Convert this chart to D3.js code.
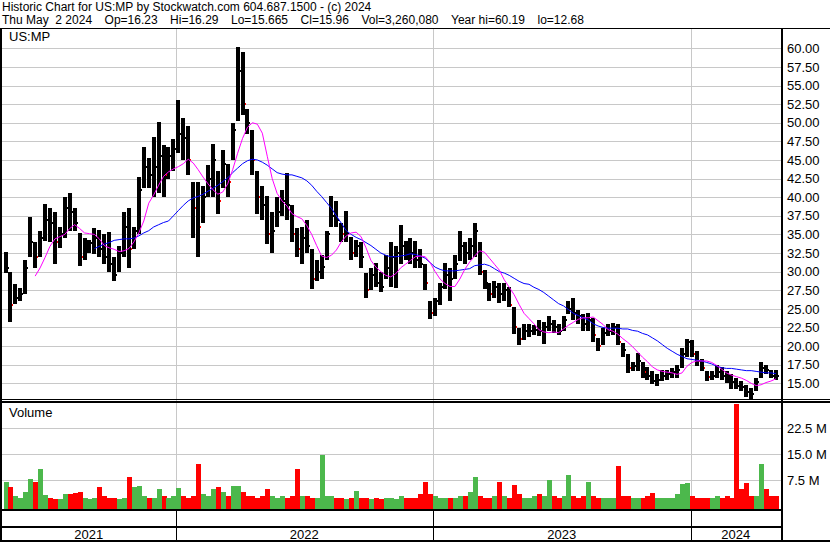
<!DOCTYPE html>
<html>
<head>
<meta charset="utf-8">
<title>US:MP Historic Chart</title>
<script src="https://d3js.org/d3.v7.min.js"></script>
<style>
  body { margin: 0; background: #fff; }
  svg text { font-family: "Liberation Sans", Arial, sans-serif; fill: #000; }
</style>
</head>
<body>
<div id="chart"></div>
<script>
// weekly bars, first week starts Mon May 3 2021
const firstWeek = new Date(2021, 4, 5);

const high = [
  32.6, 30.0, 28.3, 27.8, 31.5, 37.3, 34.0, 35.4, 39.1, 38.6,
  38.0, 36.0, 40.0, 40.6, 38.6, 35.2, 34.5, 34.3, 35.9, 35.6,
  35.0, 35.3, 32.0, 33.5, 38.0, 38.6, 36.0, 42.7, 46.7, 45.3,
  48.1, 50.1, 47.0, 46.8, 47.8, 53.0, 50.6, 49.5, 42.0, 42.0,
  41.5, 44.3, 47.2, 43.5, 46.3, 44.5, 50.0, 60.2, 59.5, 51.8,
  49.0, 43.5, 41.5, 40.2, 38.0, 40.0, 41.0, 43.2, 39.0, 35.9,
  36.0, 37.0, 33.0, 31.5, 32.3, 35.5, 40.2, 39.5, 36.5, 38.1,
  34.6, 34.2, 34.0, 29.8, 30.5, 31.2, 30.0, 32.2, 34.0, 33.5,
  36.2, 34.1, 34.5, 34.1, 33.0, 31.0, 26.0, 26.5, 28.5, 31.2,
  30.5, 32.3, 35.5, 34.0, 34.5, 36.6, 34.0, 30.2, 28.5, 28.8,
  28.5, 28.5, 28.0, 25.2, 22.4, 23.0, 23.0, 22.8, 23.5, 23.3,
  24.0, 23.5, 23.0, 24.0, 26.0, 26.5, 24.8, 24.3, 24.4, 23.8,
  21.1, 22.4, 22.9, 23.1, 23.0, 20.4, 19.0, 17.9, 19.1, 17.9,
  17.2, 16.6, 16.2, 16.8, 16.8, 17.0, 17.5, 19.7, 21.0, 20.8,
  19.3, 18.2, 16.6, 16.6, 17.5, 17.2, 16.6, 16.2, 15.7, 15.3,
  14.8, 14.4, 15.7, 17.8, 17.5, 16.8, 16.8
];
const low = [
  29.8, 23.3, 25.6, 26.0, 27.0, 31.9, 30.5, 31.9, 34.1, 34.0,
  31.0, 33.2, 34.5, 35.5, 35.5, 30.8, 31.5, 32.5, 32.4, 32.0,
  31.0, 30.0, 28.8, 30.0, 32.0, 30.5, 33.0, 35.0, 41.3, 41.3,
  40.0, 40.5, 40.0, 42.5, 43.5, 46.0, 45.0, 43.0, 34.5, 31.9,
  36.5, 40.0, 40.0, 37.8, 41.3, 40.0, 45.0, 50.3, 51.0, 48.5,
  43.0, 37.8, 37.0, 33.7, 32.5, 36.0, 37.5, 37.0, 34.0, 31.9,
  31.0, 32.5, 27.7, 28.7, 29.0, 31.5, 36.0, 36.0, 34.0, 34.0,
  31.5, 32.0, 30.5, 26.5, 27.5, 28.0, 27.3, 29.0, 28.0, 27.8,
  31.0, 31.5, 31.0, 30.5, 30.5, 27.5, 23.6, 24.0, 25.5, 27.7,
  26.0, 29.0, 31.4, 31.0, 31.5, 32.0, 29.5, 27.7, 26.0, 26.5,
  25.8, 26.0, 25.2, 21.6, 20.2, 20.8, 21.2, 21.5, 21.3, 20.3,
  22.0, 21.8, 21.5, 22.0, 24.3, 23.5, 23.0, 22.0, 22.0, 20.6,
  19.3, 20.2, 21.3, 21.5, 20.2, 18.6, 16.4, 16.6, 16.6, 15.7,
  15.5, 14.9, 14.6, 15.3, 15.5, 15.7, 15.7, 17.0, 18.5, 18.5,
  17.3, 16.6, 15.3, 15.5, 15.7, 15.5, 15.1, 14.3, 14.3, 14.0,
  13.2, 12.7, 14.0, 15.7, 16.2, 15.7, 15.5
];
const close = [
  30.5, 25.5, 26.5, 27.0, 30.5, 34.0, 32.0, 34.5, 37.0, 36.5,
  34.0, 35.0, 38.5, 38.0, 36.5, 32.0, 33.5, 33.8, 34.5, 33.0,
  32.0, 31.0, 29.5, 32.5, 36.0, 33.0, 35.5, 41.0, 44.0, 43.0,
  44.0, 45.5, 43.0, 45.5, 46.5, 48.5, 48.0, 45.0, 38.5, 36.0,
  40.0, 42.5, 45.0, 39.5, 44.5, 42.0, 49.0, 57.0, 52.5, 50.0,
  45.0, 40.0, 39.0, 35.0, 35.5, 38.0, 39.5, 39.0, 35.0, 33.0,
  34.5, 33.5, 29.0, 30.0, 30.6, 35.0, 37.5, 37.0, 35.0, 35.0,
  32.5, 33.5, 32.0, 27.5, 29.5, 28.5, 28.0, 30.5, 32.0, 32.5,
  33.5, 33.0, 32.5, 31.5, 31.0, 28.5, 24.5, 26.0, 28.0, 29.5,
  29.0, 31.0, 33.5, 32.5, 33.5, 35.5, 30.0, 28.5, 27.0, 28.0,
  27.0, 27.5, 25.5, 22.5, 21.0, 22.0, 22.0, 22.2, 22.0, 22.5,
  23.0, 22.5, 22.0, 23.5, 25.0, 24.5, 24.0, 23.0, 23.5, 21.5,
  20.0, 21.8, 22.0, 22.5, 20.5, 19.5, 17.0, 17.3, 18.0, 16.5,
  16.0, 15.3, 15.5, 16.0, 16.2, 16.5, 16.8, 19.0, 20.5, 19.0,
  18.0, 17.0, 15.8, 16.0, 16.5, 16.0, 15.5, 15.2, 14.6, 14.5,
  13.8, 13.5, 15.2, 17.0, 16.8, 16.0, 15.96
];
// magenta (short) and blue (long) moving averages as drawn
const maShort = [
  null, null, null, null, null, null, 29.4, 30.5, 31.9, 33.4,
  34.4, 34.7, 35.0, 35.8, 36.3, 35.8, 35.2, 35.1, 35.0, 34.4,
  33.5, 33.2, 33.0, 32.7, 32.8, 33.1, 34.0, 35.2, 36.8, 39.2,
  40.3, 41.6, 42.8, 43.4, 43.8, 44.1, 44.5, 45.1, 44.6, 43.7,
  42.7, 41.8, 41.0, 40.4, 40.7, 41.8, 43.7, 45.9, 47.9, 49.4,
  50.0, 49.8, 48.6, 45.5, 42.5, 40.5, 39.5, 38.8, 37.8, 37.4,
  37.1, 36.2, 35.0, 33.5, 32.1, 31.9, 32.2, 32.9, 34.0, 34.8,
  35.2, 35.3, 34.7, 33.2, 31.5, 30.6, 30.0, 29.5, 29.3, 29.7,
  30.5, 31.0, 31.5, 32.0, 32.1, 32.0, 31.2, 30.0, 29.0, 28.4,
  28.0, 28.0, 29.0, 30.3, 31.3, 32.1, 32.8, 32.6, 31.8, 31.0,
  30.2, 28.9, 27.9, 26.9, 25.6, 24.4, 23.7, 23.0, 22.2, 21.9,
  21.8, 21.9, 21.8, 22.3, 22.8, 23.2, 23.6, 23.8, 23.8, 23.9,
  23.4, 22.9, 22.2, 22.0, 21.6, 21.0, 20.5, 19.9, 19.2, 18.5,
  17.9, 17.2, 16.8, 16.6, 16.5, 16.4, 16.2, 16.4, 17.3, 17.8,
  18.0, 18.0, 18.0, 17.8, 17.4, 16.9, 16.4, 16.1, 15.9, 15.7,
  15.4, 15.0, 14.7, 14.8, 15.1, 15.3, 15.6
];
const maLong = [
  null, null, null, null, null, null, null, null, null, null,
  null, null, null, null, null, null, null, null, 33.1, 33.4,
  33.7, 33.9, 34.2, 34.3, 34.4, 34.4, 34.5, 34.8, 35.2, 35.5,
  36.0, 36.3, 36.6, 36.8, 37.5, 38.2, 38.9, 39.5, 39.9, 40.1,
  40.4, 40.8, 41.2, 41.6, 42.1, 42.6, 43.3, 43.9, 44.5, 44.9,
  45.1, 45.0, 44.7, 44.3, 43.8, 43.3, 43.1, 43.0, 43.0, 42.8,
  42.6, 42.2, 41.6, 40.8, 40.1, 39.3, 38.5, 37.5, 36.5, 35.5,
  35.0, 34.6, 34.3, 33.9, 33.5, 33.0, 32.5, 32.2, 32.0, 32.0,
  32.1, 32.2, 32.4, 32.3, 32.1, 31.8, 31.2, 30.6, 30.3, 30.1,
  30.1, 30.1, 30.2, 30.3, 30.4, 30.8, 30.9, 31.0, 30.8, 30.4,
  30.0, 29.8, 29.5, 29.1, 28.7, 28.4, 28.3, 27.9, 27.6, 27.2,
  26.7, 26.2, 25.7, 25.4, 24.9, 24.4, 24.1, 23.8, 23.5, 23.0,
  22.7, 22.5, 22.4, 22.4, 22.4, 22.3, 22.3, 22.1, 22.0, 21.7,
  21.5, 21.1, 20.7, 20.2, 19.7, 19.3, 18.9, 18.6, 18.3, 18.2,
  18.1, 18.0, 17.8, 17.6, 17.3, 17.1, 17.0, 17.0, 16.9, 16.8,
  16.7, 16.7, 16.6, 16.5, 16.4, 16.4, 16.3
];
// volume in millions of shares
const volume = [
  7.1, 5.5, 3.0, 2.5, 4.2, 7.9, 7.0, 10.7, 3.3, 2.5,
  2.2, 2.0, 3.5, 3.5, 3.8, 4.0, 2.5, 2.0, 2.5, 5.5,
  3.0, 2.5, 2.5, 2.0, 2.5, 8.4, 5.5, 6.0, 3.0, 2.5,
  2.5, 5.0, 3.0, 2.5, 3.0, 5.4, 3.0, 2.5, 3.0, 12.2,
  3.5, 3.0, 5.0, 5.5, 4.0, 3.0, 6.0, 6.0, 4.0, 3.0,
  3.0, 2.5, 3.0, 5.0, 3.0, 2.5, 3.0, 2.5, 3.0, 10.7,
  3.0, 3.0, 2.5, 2.5, 14.8, 3.0, 3.0, 2.5, 2.5, 2.0,
  2.5, 4.5, 2.5, 2.5, 2.0, 2.5, 2.0, 2.5, 2.5, 2.0,
  3.0, 2.5, 2.5, 2.5, 3.5, 7.0, 3.5, 3.0, 2.5, 2.5,
  2.5, 2.5, 3.0, 3.0, 4.0, 8.4, 3.0, 2.5, 2.5, 3.0,
  7.0, 3.0, 2.5, 6.1, 3.5, 2.5, 2.5, 3.0, 3.5, 3.0,
  7.5, 3.0, 2.5, 3.0, 9.0, 3.0, 2.5, 3.0, 7.0, 3.0,
  2.5, 2.5, 2.5, 2.5, 11.7, 3.0, 3.0, 2.5, 2.5, 2.5,
  3.0, 3.8, 2.5, 2.5, 2.5, 2.5, 3.5, 6.5, 6.8, 3.0,
  2.5, 2.5, 2.5, 2.5, 3.0, 2.5, 3.0, 2.5, 29.5, 5.0,
  6.6, 3.0, 3.0, 12.2, 5.0, 3.0, 3.0
];

const priceTicks = [15, 17.5, 20, 22.5, 25, 27.5, 30, 32.5, 35, 37.5, 40, 42.5, 45, 47.5, 50, 52.5, 55, 57.5, 60];
const volTicks = [7.5, 15, 22.5];
const years = [2021, 2022, 2023, 2024];
const titleLine = "Historic Chart for US:MP by Stockwatch.com 604.687.1500 - (c) 2024";
const quoteItems = ["Thu May  2 2024", "Op=16.23", "Hi=16.29", "Lo=15.665", "Cl=15.96",
  "Vol=3,260,080", "Year hi=60.19", "lo=12.68"];

const W = 830, H = 543;
const left = 2, right = 781;
const priceTop = 29, priceBottom = 399;
const volTop = 402, volBottom = 509;

const svg = d3.select("#chart").append("svg")
  .attr("width", W).attr("height", H);

svg.append("rect").attr("width", W).attr("height", H).attr("fill", "#fff");

const weeks = close.map((d, i) => d3.timeDay.offset(firstWeek, 7 * i));
const bars = close.map((c, i) => ({
  date: weeks[i], hi: high[i], lo: low[i], cl: c,
  op: i ? close[i - 1] : c, vol: volume[i], ms: maShort[i], ml: maLong[i]
}));

const x = d3.scaleTime()
  .domain([new Date(2021, 3, 30), new Date(2024, 4, 4)])
  .range([left, 778]);
const y = d3.scaleLinear().domain([15, 60]).range([383.3, 48.3]);
const yv = d3.scaleLinear().domain([0, 22.5]).range([506.3, 428.3]);

// header
svg.append("text").attr("x", 2).attr("y", 11).attr("font-size", 12).text(titleLine);
const quote = svg.append("text").attr("y", 24).attr("font-size", 12);
let qx = 2;
quoteItems.forEach(s => {
  const t = quote.append("tspan").attr("x", qx).text(s.replace(/ /g, "\u00a0"));
  qx += t.node().getComputedTextLength() + 12.5;
});

// grid lines
const grid = svg.append("g").attr("stroke", "#c8c8c8").attr("shape-rendering", "crispEdges");
grid.selectAll("line.h").data(priceTicks).join("line")
  .attr("x1", left).attr("x2", right)
  .attr("y1", d => Math.round(y(d)) + 0.5).attr("y2", d => Math.round(y(d)) + 0.5);
grid.selectAll("line.v").data(volTicks).join("line")
  .attr("x1", left).attr("x2", right)
  .attr("y1", d => Math.round(yv(d)) + 0.5).attr("y2", d => Math.round(yv(d)) + 0.5);
const yearStarts = years.slice(1).map(yr => new Date(yr, 0, 1));
grid.selectAll("line.yr").data(yearStarts).join("line")
  .attr("x1", d => Math.round(x(d)) + 0.5).attr("x2", d => Math.round(x(d)) + 0.5)
  .attr("y1", priceTop).attr("y2", volBottom);

// clip regions
svg.append("clipPath").attr("id", "clipP").append("rect")
  .attr("x", left).attr("y", priceTop).attr("width", right - left).attr("height", priceBottom - priceTop);
svg.append("clipPath").attr("id", "clipV").append("rect")
  .attr("x", left).attr("y", volTop).attr("width", right - left).attr("height", volBottom - volTop);

// price bars: body plus a close tick, red ticks on sharp drops
const pg = svg.append("g").attr("clip-path", "url(#clipP)").attr("shape-rendering", "crispEdges");
pg.selectAll("rect.bar").data(bars).join("rect")
  .attr("x", d => Math.round(x(d.date)) - 2)
  .attr("width", 4)
  .attr("y", d => y(d.hi))
  .attr("height", d => Math.max(1, y(d.lo) - y(d.hi)))
  .attr("fill", "#000");
pg.selectAll("rect.cl").data(bars).join("rect")
  .attr("x", d => Math.round(x(d.date)) + 2)
  .attr("width", 1).attr("height", 2)
  .attr("y", d => Math.round(y(d.cl)) - 1)
  .attr("fill", d => d.cl < d.op * 0.95 ? "#ff0000" : "#000");

// moving averages
const lineFor = key => d3.line()
  .defined(d => d[key] != null)
  .x(d => x(d.date))
  .y(d => y(d[key]));
pg.append("path").datum(bars)
  .attr("fill", "none").attr("stroke", "#0000ff").attr("stroke-width", 1)
  .attr("shape-rendering", "auto")
  .attr("d", lineFor("ml"));
pg.append("path").datum(bars)
  .attr("fill", "none").attr("stroke", "#ff00ff").attr("stroke-width", 1)
  .attr("shape-rendering", "auto")
  .attr("d", lineFor("ms"));

// volume bars
const vg = svg.append("g").attr("clip-path", "url(#clipV)").attr("shape-rendering", "crispEdges");
vg.selectAll("rect").data(bars).join("rect")
  .attr("x", d => Math.round(x(d.date)) - 2)
  .attr("width", 5)
  .attr("y", d => yv(d.vol))
  .attr("height", d => volBottom - yv(d.vol))
  .attr("fill", d => d.cl >= d.op ? "#4cb84c" : "#ff0000");

// panel labels
svg.append("text").attr("x", 9).attr("y", 41).attr("font-size", 13).text("US:MP");
svg.append("text").attr("x", 9).attr("y", 417).attr("font-size", 13).text("Volume");

// right axes
const ay = svg.append("g").attr("transform", `translate(${right + 2},0)`)
  .call(d3.axisRight(y).tickValues(priceTicks).tickSize(0).tickPadding(4).tickFormat(d3.format(".2f")));
const av = svg.append("g").attr("transform", `translate(${right + 2},0)`)
  .call(d3.axisRight(yv).tickValues(volTicks).tickSize(0).tickPadding(4).tickFormat(d => d3.format(".1f")(d) + " M"));
[ay, av].forEach(a => {
  a.select(".domain").remove();
  a.selectAll("text").attr("font-size", 13).attr("font-family", "Liberation Sans, Arial, sans-serif").attr("fill", "#000");
});

// frame lines
const frame = svg.append("g").attr("stroke", "#000").attr("shape-rendering", "crispEdges");
frame.append("line").attr("x1", 0).attr("x2", W).attr("y1", 28.5).attr("y2", 28.5);
frame.append("line").attr("x1", 1).attr("x2", 1).attr("y1", 28).attr("y2", 542).attr("stroke-width", 2);
frame.append("line").attr("x1", right + 1).attr("x2", right + 1).attr("y1", 28).attr("y2", 542).attr("stroke-width", 2);
frame.append("line").attr("x1", 0).attr("x2", W).attr("y1", 399.5).attr("y2", 399.5);
frame.append("line").attr("x1", 0).attr("x2", W).attr("y1", 402).attr("y2", 402).attr("stroke-width", 2);
frame.append("line").attr("x1", 0).attr("x2", right + 2).attr("y1", 510).attr("y2", 510).attr("stroke-width", 2);
frame.append("line").attr("x1", 0).attr("x2", right + 2).attr("y1", 527).attr("y2", 527).attr("stroke-width", 2);
frame.append("line").attr("x1", 0).attr("x2", W).attr("y1", 541).attr("y2", 541).attr("stroke-width", 2);

// year band at the bottom
frame.selectAll("line.ys").data(yearStarts).join("line")
  .attr("x1", d => Math.round(x(d)) + 0.5).attr("x2", d => Math.round(x(d)) + 0.5)
  .attr("y1", 510).attr("y2", 541);
svg.selectAll("text.year").data(years).join("text")
  .attr("class", "year")
  .attr("x", yr => {
    const a = Math.max(left, x(new Date(yr, 0, 1)));
    const b = Math.min(right, x(new Date(yr + 1, 0, 1)));
    return (a + b) / 2;
  })
  .attr("y", 539)
  .attr("text-anchor", "middle")
  .attr("font-size", 13)
  .text(d => d);
</script>
</body>
</html>
